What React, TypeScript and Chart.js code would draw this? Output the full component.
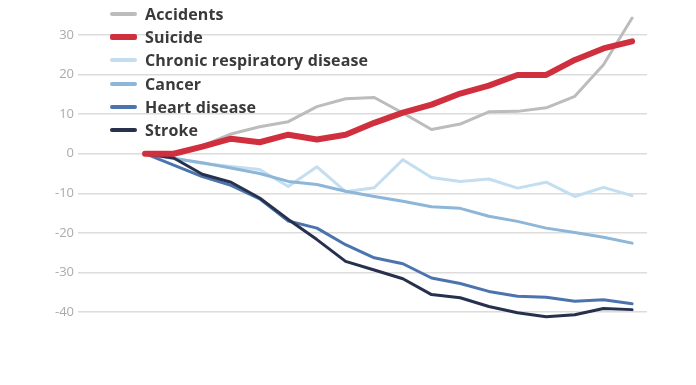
import React, { useEffect, useRef } from "react";
import { Chart, registerables } from "chart.js";

Chart.register(...registerables);

// 18 equally spaced periods (no x labels shown in the reference)
const periods = ["1","2","3","4","5","6","7","8","9","10","11","12","13","14","15","16","17","18"];

const seriesNames = ["Accidents", "Suicide", "Chronic respiratory disease", "Cancer", "Heart disease", "Stroke"];

const accidents = [0, 0.2, 2, 5, 6.8, 8.1, 11.9, 13.9, 14.2, 10.3, 6.1, 7.5, 10.6, 10.7, 11.6, 14.5, 22.5, 34.3];
const suicide = [0, 0, 1.8, 3.8, 2.9, 4.8, 3.6, 4.8, 7.8, 10.4, 12.4, 15.2, 17.2, 19.9, 19.9, 23.7, 26.6, 28.4];
const respiratory = [0, -1, -2.5, -3.2, -4, -8.3, -3.3, -9.6, -8.6, -1.5, -6, -7, -6.4, -8.7, -7.2, -10.8, -8.5, -10.6];
const cancer = [0, -1.2, -2.3, -3.6, -5, -7, -7.8, -9.5, -10.8, -12, -13.4, -13.8, -15.8, -17.1, -18.8, -19.9, -21.1, -22.6];
const heart = [0, -2.9, -5.8, -8, -11.4, -17, -18.8, -23, -26.3, -27.8, -31.4, -32.8, -34.8, -36, -36.3, -37.3, -36.9, -37.9];
const stroke = [0, -1.1, -5.2, -7.2, -11.2, -16.6, -21.7, -27.2, -29.4, -31.6, -35.6, -36.4, -38.6, -40.2, -41.2, -40.7, -39.1, -39.4];

const yTicks = [30, 20, 10, 0, -10, -20, -30, -40];

const colors = ["#bcbcbc", "#d02f3e", "#c3def0", "#8db6d8", "#4b74ae", "#27314d"];
const widths = [3, 6, 3, 3, 3, 3];
const drawOrder = [1, 0, 5, 4, 3, 2];
const legendWidths = [4, 6, 4, 4, 4, 4];

const allSeries = [accidents, suicide, respiratory, cancer, heart, stroke];

export default function App() {
  const ref = useRef<HTMLCanvasElement>(null);

  useEffect(() => {
    document.body.style.margin = "0";
    const ctx = ref.current!;
    const chart = new Chart(ctx, {
      type: "line",
      data: {
        labels: periods,
        datasets: allSeries.map((vals, k) => ({
          label: seriesNames[k],
          data: vals.map((v, i) => ({ x: i, y: v })),
          borderColor: colors[k],
          backgroundColor: colors[k],
          borderWidth: widths[k],
          pointRadius: 0,
          tension: 0,
          borderJoinStyle: "round" as const,
          borderCapStyle: "round" as const,
          order: drawOrder[k],
          clip: false as any,
        })),
      },
      options: {
        animation: false,
        responsive: false,
        maintainAspectRatio: false,
        layout: { padding: { left: 0, right: 49, top: 35, bottom: 73 } },
        plugins: { legend: { display: false }, tooltip: { enabled: false } },
        scales: {
          x: {
            type: "linear",
            min: -2.34,
            max: 17.52,
            display: false,
          },
          y: {
            min: -40,
            max: 30,
            afterFit: (s: any) => { s.width = 78; },
            afterBuildTicks: (s: any) => { s.ticks = yTicks.map((v) => ({ value: v })); },
            border: { display: false },
            grid: { color: "#dcdcdc", lineWidth: 1.5, drawTicks: false },
            ticks: {
              color: "#ababab",
              padding: 4,
              font: { family: "'Open Sans', sans-serif", size: 13 },
            },
          },
        },
      },
    });
    return () => chart.destroy();
  }, []);

  return (
    <div style={{ position: "relative", width: 696, height: 385, background: "#fff" }}>
      <canvas ref={ref} width={696} height={385} style={{ position: "absolute", left: 0, top: 0 }} />
      <div style={{ position: "absolute", left: 110, top: 2, fontFamily: "'Open Sans', sans-serif", fontWeight: 700, fontSize: 16, letterSpacing: 0.15, color: "#3a3a3a" }}>
        {seriesNames.map((n, k) => (
          <div key={n} style={{ display: "flex", alignItems: "center", height: 23.3 }}>
            <span style={{ display: "inline-block", width: 27, height: legendWidths[k], background: colors[k], borderRadius: 2, marginRight: 8 }} />
            <span>{n}</span>
          </div>
        ))}
      </div>
    </div>
  );
}
